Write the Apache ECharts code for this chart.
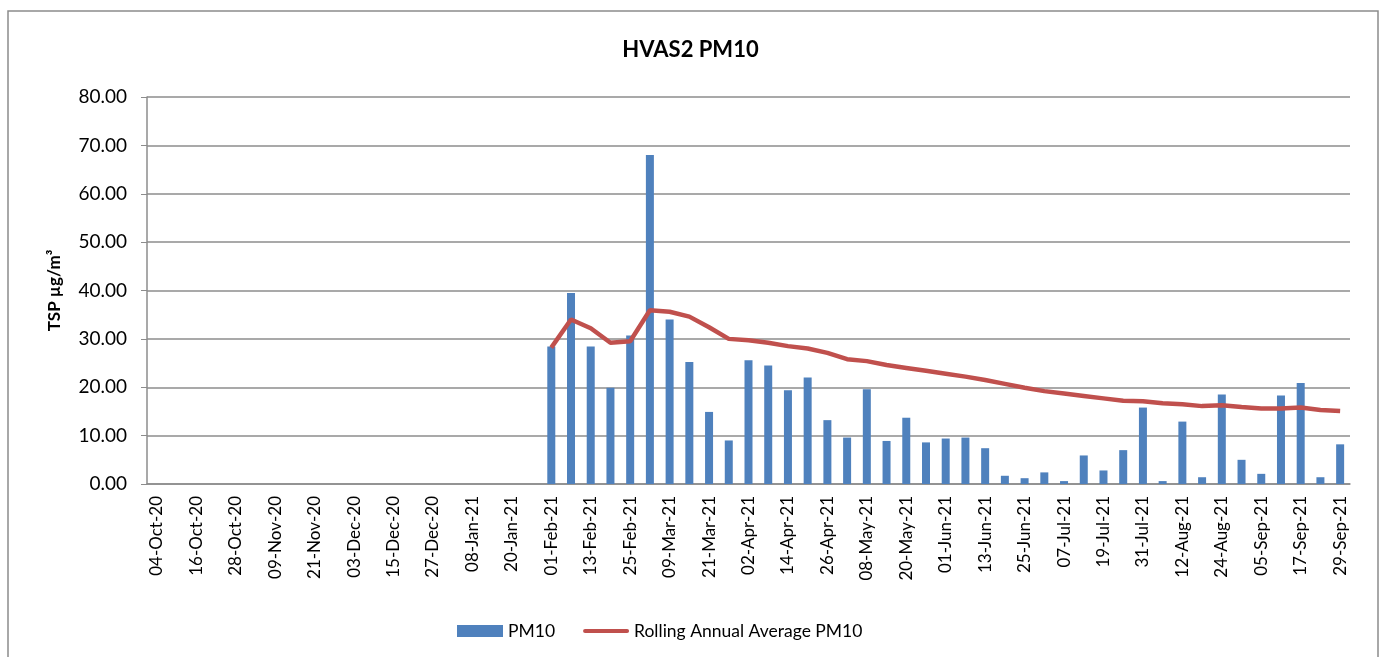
<!DOCTYPE html>
<html>
<head>
<meta charset="utf-8">
<script src="https://cdn.jsdelivr.net/npm/echarts@6/dist/echarts.min.js"></script>
<style>
  html, body { margin: 0; padding: 0; background: #fff; }
  #main { width: 1381px; height: 657px; }
</style>
</head>
<body>
<div id="main"></div>
<script>
// sample dates, every 6 days
var startDate = new Date(Date.UTC(2020, 9, 4));
var months = ["Jan", "Feb", "Mar", "Apr", "May", "Jun", "Jul", "Aug", "Sep", "Oct", "Nov", "Dec"];
var categories = [];
for (var i = 0; i < 61; i++) {
  var d = new Date(startDate.getTime() + i * 6 * 86400000);
  var dd = ("0" + d.getUTCDate()).slice(-2);
  categories.push(dd + "-" + months[d.getUTCMonth()] + "-" + String(d.getUTCFullYear()).slice(-2));
}

// no samples before 01-Feb-21 (first 20 dates)
var emptyPart = [null, null, null, null, null, null, null, null, null, null,
                 null, null, null, null, null, null, null, null, null, null];

var pm10 = emptyPart.concat([
  28.4, 39.5, 28.4, 19.9, 30.7, 68.0, 34.0, 25.2, 14.9, 9.0,
  25.6, 24.5, 19.4, 22.0, 13.2, 9.6, 19.6, 8.9, 13.7, 8.6,
  9.4, 9.6, 7.4, 1.7, 1.2, 2.4, 0.6, 5.9, 2.8, 7.0,
  15.8, 0.6, 12.9, 1.4, 18.5, 5.0, 2.1, 18.3, 20.9, 1.4,
  8.2
]);

var rollingAvg = emptyPart.concat([
  28.2, 34.0, 32.2, 29.2, 29.5, 35.9, 35.6, 34.6, 32.4, 30.0,
  29.7, 29.2, 28.5, 28.0, 27.1, 25.8, 25.4, 24.6, 24.0, 23.4,
  22.8, 22.2, 21.5, 20.7, 19.9, 19.2, 18.7, 18.2, 17.7, 17.2,
  17.1, 16.7, 16.5, 16.1, 16.3, 15.9, 15.6, 15.6, 15.8, 15.3,
  15.1
]);

var chartDom = document.getElementById("main");
var myChart = echarts.init(chartDom);
var option;

var fontName = "Lato";

option = {
  animation: false,
  backgroundColor: "#fff",
  graphic: [
    {
      type: "rect",
      shape: { x: 8, y: 11, width: 1370, height: 660 },
      style: { fill: "none", stroke: "#8c8c8c", lineWidth: 1.5 },
      silent: true
    }
  ],
  title: {
    text: "HVAS2 PM10",
    left: "center",
    top: 34,
    textStyle: { fontFamily: fontName, fontSize: 22, fontWeight: "bold", color: "#000" }
  },
  legend: {
    left: 452,
    top: 617,
    itemGap: 28,
    itemWidth: 46,
    itemHeight: 12,
    textStyle: { fontFamily: fontName, fontSize: 17.5, color: "#000" },
    data: [
      { name: "PM10", icon: "rect" },
      { name: "Rolling Annual Average PM10", icon: "path://M2,0 L44,0 A2,2 0 0 1 44,4 L2,4 A2,2 0 0 1 2,0 Z" }
    ]
  },
  grid: {
    left: 147,
    right: 31,
    top: 97,
    bottom: 173
  },
  xAxis: {
    type: "category",
    data: categories,
    boundaryGap: true,
    axisLine: { lineStyle: { color: "#8c8c8c", width: 1.5 } },
    axisTick: { interval: 0, length: 6, lineStyle: { color: "#8c8c8c" } },
    axisLabel: {
      interval: 1,
      rotate: 90,
      margin: 12,
      fontFamily: fontName,
      fontSize: 17,
      color: "#000"
    }
  },
  yAxis: {
    type: "value",
    min: 0,
    max: 80,
    interval: 10,
    name: "TSP µg/m³",
    nameLocation: "middle",
    nameGap: 84,
    nameTextStyle: { fontFamily: fontName, fontSize: 17, fontWeight: "bold", color: "#000" },
    axisLine: { show: true, lineStyle: { color: "#8c8c8c", width: 1.5 } },
    axisTick: { show: true, length: 6, lineStyle: { color: "#8c8c8c" } },
    axisLabel: {
      margin: 20,
      fontFamily: fontName,
      fontSize: 19,
      color: "#000",
      formatter: function (v) { return v.toFixed(2); }
    },
    splitLine: { lineStyle: { color: "#8c8c8c", width: 1.5 } }
  },
  series: [
    {
      name: "PM10",
      type: "bar",
      data: pm10,
      barWidth: 8,
      itemStyle: { color: "#4f81bd" }
    },
    {
      name: "Rolling Annual Average PM10",
      type: "line",
      data: rollingAvg,
      symbol: "none",
      connectNulls: false,
      lineStyle: { color: "#c0504d", width: 4.5 },
      itemStyle: { color: "#c0504d" }
    }
  ]
};

option && myChart.setOption(option);
</script>
</body>
</html>
